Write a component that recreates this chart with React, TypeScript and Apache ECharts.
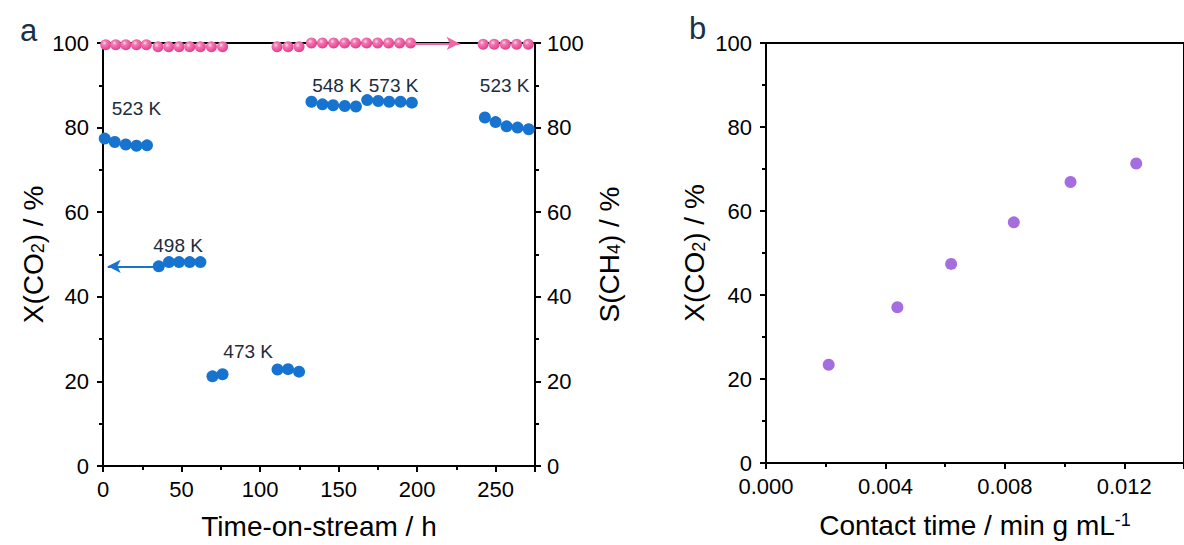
import React, { useEffect, useRef } from "react";
import * as echarts from "echarts";

// ---- Panel a data ----
const blueTime = [1.1, 7.5, 14.5, 21.3, 28.0, 35.5, 42.0, 48.4, 55.2, 62.0, 69.7, 76.1, 111.1, 117.8, 124.8, 132.7, 139.7, 146.5, 153.9, 161.0, 168.2, 175.2, 182.2, 189.4, 196.6, 243.1, 249.9, 256.9, 263.9, 271.0];
const blueConv = [77.4, 76.6, 76.0, 75.7, 75.8, 47.2, 48.2, 48.2, 48.2, 48.2, 21.2, 21.7, 22.8, 22.9, 22.3, 86.1, 85.5, 85.3, 85.1, 85.0, 86.5, 86.3, 86.1, 86.1, 85.9, 82.4, 81.3, 80.3, 80.0, 79.6];
const pinkTime = [1.7, 8.1, 14.5, 21.3, 27.6, 35.0, 41.8, 48.4, 55.2, 62.0, 69.0, 76.1, 110.8, 117.8, 124.8, 132.7, 139.7, 146.8, 153.8, 160.8, 167.8, 174.8, 181.8, 188.8, 195.8, 242.0, 249.0, 256.1, 263.3, 270.7];
const pinkSel = [99.6, 99.6, 99.6, 99.6, 99.6, 99.1, 99.1, 99.1, 99.1, 99.1, 99.1, 99.1, 99.1, 99.1, 99.1, 100.0, 100.0, 100.0, 100.0, 100.0, 100.0, 100.0, 100.0, 100.0, 100.0, 99.7, 99.7, 99.7, 99.7, 99.7];
const tempText = ["523 K", "498 K", "473 K", "548 K", "573 K", "523 K"];
const tempTime = [21.3, 47.8, 92.4, 149, 185, 255.7];
const tempConv = [84.5, 52.2, 27.0, 90.0, 90.0, 90.0];
const blueArrow = [[35.5, 47.2], [3, 47.2]];
const pinkArrow = [[196, 99.9], [227, 99.9]];

// ---- Panel b data ----
const contactTime = [0.0021, 0.0044, 0.0062, 0.0083, 0.0102, 0.0124];
const convB = [23.4, 37.1, 47.4, 57.3, 66.9, 71.3];

const FONT = "'Liberation Sans', Arial, Helvetica, sans-serif";
const BLUE = "#1674d0";
const PINK = "#ee68a8";
const PURPLE = "#a46ee0";

const axisCommon = {
  axisLine: { show: true, lineStyle: { color: "#000", width: 2 } },
  axisTick: { show: true, inside: false, length: 6, lineStyle: { color: "#000", width: 2 } },
  minorTick: { show: true, splitNumber: 2, length: 4, lineStyle: { color: "#000", width: 2 } },
  splitLine: { show: false },
  minorSplitLine: { show: false },
};

const titleRich = {
  n: { fontSize: 28, fontFamily: FONT, color: "#000", lineHeight: 28, verticalAlign: "bottom" },
  s: { fontSize: 18, fontFamily: FONT, color: "#000", lineHeight: 10, verticalAlign: "bottom" },
  p: { fontSize: 18, fontFamily: FONT, color: "#000", lineHeight: 18, verticalAlign: "top" },
};

export default function App() {
  const ref = useRef<HTMLDivElement>(null);
  useEffect(() => {
    if (!ref.current) return;
    const chart = echarts.init(ref.current, null, { renderer: "svg" });
    const pinkFill = new echarts.graphic.RadialGradient(0.38, 0.35, 0.65, [
      { offset: 0, color: "#ffe0ef" },
      { offset: 0.3, color: "#f47ab5" },
      { offset: 1, color: "#e23f8c" },
    ]);
    const option = {
      animation: false,
      grid: [
        { left: 103, top: 43, width: 432, height: 423, show: true, borderColor: "#000", borderWidth: 2, backgroundColor: "transparent" },
        { left: 766, top: 43, width: 431, height: 420, show: true, borderColor: "#000", borderWidth: 2, backgroundColor: "transparent" },
      ],
      xAxis: [
        {
          ...axisCommon,
          type: "value", gridIndex: 0, min: 0, max: 275, interval: 50,
          axisLabel: { color: "#000", fontSize: 22, fontFamily: FONT, margin: 12, showMaxLabel: false },
          name: "Time-on-stream / h", nameLocation: "middle", nameGap: 46,
          nameTextStyle: { color: "#000", fontSize: 28, fontFamily: FONT },
        },
        {
          ...axisCommon,
          type: "value", gridIndex: 1, min: 0, max: 0.014, interval: 0.004,
          axisLabel: { color: "#000", fontSize: 22, fontFamily: FONT, margin: 12, showMaxLabel: false, formatter: (v: number) => v.toFixed(3) },
          name: "{n|Contact time / min g mL}{p|-1}", nameLocation: "middle", nameGap: 48,
          nameTextStyle: { rich: titleRich },
        },
      ],
      yAxis: [
        {
          ...axisCommon,
          type: "value", gridIndex: 0, min: 0, max: 100, interval: 20, position: "left",
          axisLabel: { color: "#000", fontSize: 22, fontFamily: FONT, margin: 14 },
          name: "{n|X(CO}{s|2}{n|) / %}", nameLocation: "middle", nameGap: 56, nameRotate: 90,
          nameTextStyle: { rich: titleRich },
        },
        {
          ...axisCommon,
          type: "value", gridIndex: 0, min: 0, max: 100, interval: 20, position: "right",
          axisLabel: { color: "#000", fontSize: 22, fontFamily: FONT, margin: 12 },
          name: "{n|S(CH}{s|4}{n|) / %}", nameLocation: "middle", nameGap: 60, nameRotate: 90,
          nameTextStyle: { rich: titleRich },
        },
        {
          ...axisCommon,
          type: "value", gridIndex: 1, min: 0, max: 100, interval: 20, position: "left",
          axisLabel: { color: "#000", fontSize: 22, fontFamily: FONT, margin: 14 },
          name: "{n|X(CO}{s|2}{n|) / %}", nameLocation: "middle", nameGap: 58, nameRotate: 90,
          nameTextStyle: { rich: titleRich },
        },
      ],
      series: [
        {
          type: "scatter", xAxisIndex: 0, yAxisIndex: 1, symbolSize: 11,
          itemStyle: { color: pinkFill, opacity: 1 },
          data: pinkTime.map((t, i) => [t, pinkSel[i]]),
          markLine: {
            silent: true, symbol: ["none", "arrow"], symbolSize: [10, 13],
            label: { show: false },
            lineStyle: { color: PINK, width: 2, type: "solid", opacity: 1 },
            data: [[{ coord: pinkArrow[0] }, { coord: pinkArrow[1] }]],
          },
        },
        {
          type: "scatter", xAxisIndex: 0, yAxisIndex: 0, symbolSize: 12,
          itemStyle: { color: BLUE, opacity: 1 },
          data: blueTime.map((t, i) => [t, blueConv[i]]),
          markLine: {
            silent: true, symbol: ["none", "arrow"], symbolSize: [10, 13],
            label: { show: false },
            lineStyle: { color: BLUE, width: 2, type: "solid", opacity: 1 },
            data: [[{ coord: blueArrow[0] }, { coord: blueArrow[1] }]],
          },
        },
        {
          type: "scatter", xAxisIndex: 0, yAxisIndex: 0, symbolSize: 1,
          itemStyle: { color: "rgba(0,0,0,0)", opacity: 1 },
          label: {
            show: true, position: "inside", color: "#1b2c3c", fontSize: 19, fontFamily: FONT, opacity: 1,
            formatter: (p: any) => tempText[p.dataIndex],
          },
          data: tempTime.map((t, i) => [t, tempConv[i]]),
        },
        {
          type: "scatter", xAxisIndex: 1, yAxisIndex: 2, symbolSize: 12,
          itemStyle: { color: PURPLE, opacity: 1 },
          data: contactTime.map((t, i) => [t, convB[i]]),
        },
      ],
      graphic: [
        { type: "text", left: 20, top: 15, style: { text: "a", font: `31px ${FONT}`, fill: "#18304a" } },
        { type: "text", left: 689, top: 13, style: { text: "b", font: `31px ${FONT}`, fill: "#18304a" } },
      ],
    };
    chart.setOption(option as any);
    return () => chart.dispose();
  }, []);
  return <div ref={ref} style={{ width: 1184, height: 545, position: "absolute", left: 0, top: 0 }} />;
}
